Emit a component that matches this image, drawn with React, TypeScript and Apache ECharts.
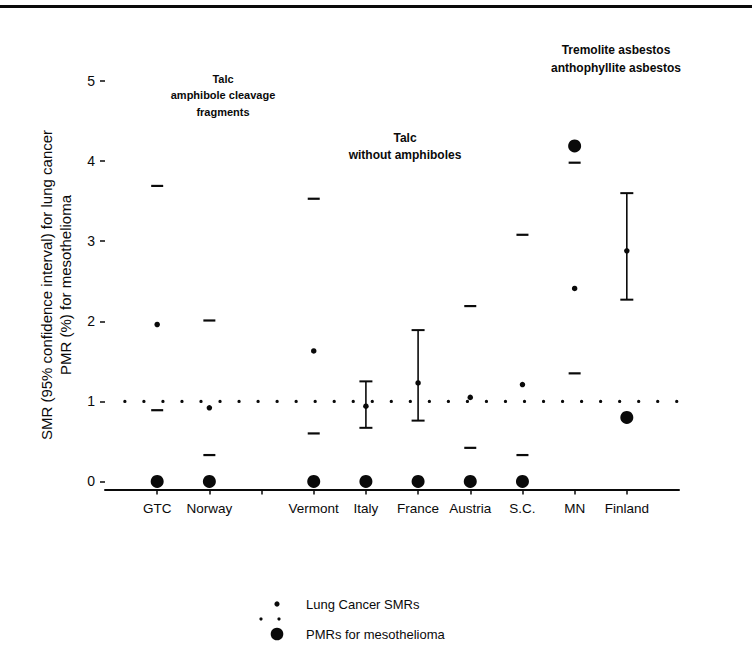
import React, { useEffect, useRef } from "react";
import * as echarts from "echarts";

const categories = ["GTC", "Norway", "", "Vermont", "Italy", "France", "Austria", "S.C.", "MN", "Finland"];
const smr = [1.96, 0.92, null, 1.63, 0.94, 1.23, 1.05, 1.21, 2.41, 2.88];
const ciLower = [0.89, 0.33, null, 0.6, 0.67, 0.76, 0.42, 0.33, 1.35, 2.27];
const ciUpper = [3.69, 2.01, null, 3.53, 1.25, 1.89, 2.19, 3.08, 3.98, 3.6];
const pmr = [0, 0, null, 0, 0, 0, 0, 0, 4.19, 0.8];
const ciAsBar = [false, false, false, false, true, true, false, false, false, true];
const refLine = [[0.38, 1], [11, 1]];
const yTicks = [0, 1, 2, 3, 4, 5];
const xTicks = categories.map((_, i) => i + 1);

const INK = "#0a0a0a";
const FONT = "'Liberation Sans', Arial, Helvetica, sans-serif";

export default function App() {
  const ref = useRef<HTMLDivElement>(null);
  useEffect(() => {
    const chart = echarts.init(ref.current!, null, { renderer: "svg" });

    const dashData: number[][] = [];
    const barData: number[][] = [];
    categories.forEach((_, i) => {
      const lo = ciLower[i];
      const hi = ciUpper[i];
      if (lo == null || hi == null) return;
      if (ciAsBar[i]) barData.push([i + 1, lo, hi]);
      else {
        dashData.push([i + 1, lo]);
        dashData.push([i + 1, hi]);
      }
    });
    const smrData = smr.map((v, i) => (v == null ? null : [i + 1, v])).filter(Boolean);
    const pmrData = pmr.map((v, i) => (v == null ? null : [i + 1, v])).filter(Boolean);

    const option: any = {
      animation: false,
      backgroundColor: "#fff",
      textStyle: { fontFamily: FONT, color: INK },
      grid: { left: 105, right: 73, top: 81, bottom: 171.5, containLabel: false },
      xAxis: {
        type: "value",
        min: 0,
        max: 11,
        splitLine: { show: false },
        axisLine: { show: true, onZero: false, lineStyle: { color: INK, width: 2 } },
        axisTick: { show: true, length: 5, lineStyle: { color: INK, width: 1.5 }, customValues: xTicks },
        axisLabel: {
          customValues: xTicks,
          formatter: (v: number) => categories[Math.round(v) - 1] ?? "",
          color: INK,
          fontSize: 13.5,
          fontFamily: FONT,
          margin: 12,
        },
      },
      yAxis: {
        type: "value",
        min: -0.1,
        max: 5,
        splitLine: { show: false },
        axisLine: { show: false },
        axisTick: { show: true, length: 5, lineStyle: { color: INK, width: 1.5 }, customValues: yTicks },
        axisLabel: {
          customValues: yTicks,
          color: INK,
          fontSize: 14,
          fontFamily: FONT,
          margin: 10,
        },
      },
      series: [
        {
          type: "line",
          data: refLine,
          symbol: "none",
          silent: true,
          lineStyle: { color: INK, width: 3.2, type: [0.1, 18.93], cap: "round" },
          z: 1,
        },
        {
          type: "scatter",
          data: dashData,
          symbol: "rect",
          symbolSize: [12, 2.2],
          itemStyle: { color: INK, opacity: 1 },
          silent: true,
        },
        {
          type: "custom",
          data: barData,
          encode: { x: 0, y: [1, 2] },
          silent: true,
          renderItem: (params: any, api: any) => {
            const x = api.value(0);
            const lo = api.coord([x, api.value(1)]);
            const hi = api.coord([x, api.value(2)]);
            const w = 6.5;
            const st = { stroke: INK, lineWidth: 1.6 };
            return {
              type: "group",
              children: [
                { type: "line", shape: { x1: lo[0], y1: lo[1], x2: hi[0], y2: hi[1] }, style: st },
                { type: "line", shape: { x1: lo[0] - w, y1: lo[1], x2: lo[0] + w, y2: lo[1] }, style: { stroke: INK, lineWidth: 2 } },
                { type: "line", shape: { x1: hi[0] - w, y1: hi[1], x2: hi[0] + w, y2: hi[1] }, style: { stroke: INK, lineWidth: 2 } },
              ],
            };
          },
        },
        {
          type: "scatter",
          data: smrData,
          symbol: "circle",
          symbolSize: 5.5,
          itemStyle: { color: INK, opacity: 1 },
          silent: true,
          z: 3,
        },
        {
          type: "scatter",
          data: pmrData,
          symbol: "circle",
          symbolSize: 13,
          itemStyle: { color: INK, opacity: 1 },
          silent: true,
          z: 3,
        },
      ],
      graphic: [
        { type: "rect", shape: { x: 0, y: 5, width: 752, height: 3 }, style: { fill: INK }, silent: true },
        {
          type: "text",
          x: 46,
          y: 285,
          rotation: Math.PI / 2,
          style: { text: "SMR (95% confidence interval) for lung cancer", fontSize: 15, fontFamily: FONT, fill: INK, align: "center", verticalAlign: "middle" },
        },
        {
          type: "text",
          x: 65,
          y: 285,
          rotation: Math.PI / 2,
          style: { text: "PMR (%) for mesothelioma", fontSize: 15, fontFamily: FONT, fill: INK, align: "center", verticalAlign: "middle" },
        },
        {
          type: "text",
          x: 223,
          y: 95,
          style: { text: "Talc\namphibole cleavage\nfragments", fontSize: 11, fontWeight: "bold", lineHeight: 16.5, fontFamily: FONT, fill: INK, align: "center", verticalAlign: "middle" },
        },
        {
          type: "text",
          x: 405,
          y: 146,
          style: { text: "Talc\nwithout amphiboles", fontSize: 12, fontWeight: "bold", lineHeight: 17, fontFamily: FONT, fill: INK, align: "center", verticalAlign: "middle" },
        },
        {
          type: "text",
          x: 616,
          y: 59,
          style: { text: "Tremolite asbestos\nanthophyllite asbestos", fontSize: 12, fontWeight: "bold", lineHeight: 18, fontFamily: FONT, fill: INK, align: "center", verticalAlign: "middle" },
        },
        { type: "circle", shape: { cx: 277, cy: 604, r: 2.6 }, style: { fill: INK } },
        { type: "text", x: 306, y: 604, style: { text: "Lung Cancer SMRs", fontSize: 13, fontFamily: FONT, fill: INK, verticalAlign: "middle" } },
        { type: "circle", shape: { cx: 261, cy: 619, r: 1.6 }, style: { fill: INK } },
        { type: "circle", shape: { cx: 279, cy: 619, r: 1.6 }, style: { fill: INK } },
        { type: "circle", shape: { cx: 277, cy: 634, r: 6.3 }, style: { fill: INK } },
        { type: "text", x: 306, y: 634, style: { text: "PMRs for mesothelioma", fontSize: 13, fontFamily: FONT, fill: INK, verticalAlign: "middle" } },
      ],
    };
    chart.setOption(option);
    return () => chart.dispose();
  }, []);
  return (
    <div
      ref={ref}
      style={{ position: "absolute", left: 0, top: 0, width: 752, height: 661, background: "#fff" }}
    />
  );
}
